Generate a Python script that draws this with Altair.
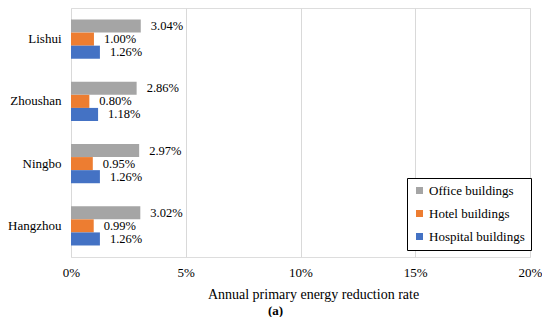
import altair as alt
import pandas as pd

cities = ["Lishui", "Zhoushan", "Ningbo", "Hangzhou"]
types = ["Office buildings", "Hotel buildings", "Hospital buildings"]
office = [3.04, 2.86, 2.97, 3.02]
hotel = [1.00, 0.80, 0.95, 0.99]
hospital = [1.26, 1.18, 1.26, 1.26]
colors = ["#A5A5A5", "#ED7D31", "#4472C4"]

rows = []
for i, c in enumerate(cities):
    for t, vals in zip(types, [office, hotel, hospital]):
        rows.append({"city": c, "type": t, "value": vals[i],
                     "label": f"{vals[i]:.2f}%"})
df = pd.DataFrame(rows)

FONT = "Liberation Serif"

y_enc = alt.Y("city:N", sort=cities, title=None,
              scale=alt.Scale(paddingInner=0.37, paddingOuter=0.185),
              axis=alt.Axis(labelFont=FONT, labelFontSize=13, labelColor="#000",
                            ticks=False, domain=False, labelPadding=10))
yoff = alt.YOffset("type:N", sort=types)
x_enc = alt.X("value:Q", scale=alt.Scale(domain=[0, 20]),
              title="Annual primary energy reduction rate",
              axis=alt.Axis(values=[0, 5, 10, 15, 20], labelExpr="datum.value + '%'",
                            labelFont=FONT, labelFontSize=13, labelColor="#000",
                            labelPadding=9, ticks=False, domain=False,
                            labelFlush=False,
                            gridColor="#d9d9d9", gridWidth=1,
                            titleFont=FONT, titleFontSize=14, titleFontWeight="normal",
                            titleColor="#000", titlePadding=8, titleX=242))

bars = alt.Chart(df).mark_bar().encode(
    y=y_enc, yOffset=yoff, x=x_enc,
    color=alt.Color("type:N", sort=types,
                    scale=alt.Scale(domain=types, range=colors),
                    legend=alt.Legend(title=None, orient="none", legendX=336, legendY=170,
                                      labelFont=FONT, labelFontSize=13, labelColor="#000",
                                      symbolType="square", symbolSize=49,
                                      symbolStrokeWidth=0,
                                      strokeColor="#000", fillColor="#fff",
                                      padding=6, rowPadding=9, labelOffset=3)),
)

labels = alt.Chart(df).mark_text(align="left", baseline="middle", dx=10,
                                 font=FONT, fontSize=12.5, color="#000").encode(
    y=alt.Y("city:N", sort=cities), yOffset=yoff, x="value:Q", text="label:N")

chart = alt.layer(bars, labels).properties(
    width=459, height=249,
    title=alt.TitleParams("(a)", orient="bottom", font=FONT, fontSize=13,
                          fontWeight="bold", color="#000", dx=-25, offset=4),
    autosize=alt.AutoSizeParams(type="none"),
    padding={"left": 63, "top": 0, "right": 12, "bottom": 60},
).configure_view(stroke="#000", strokeWidth=1.5).configure(background="#fff")

chart.save("out.html", embed_options={"renderer": "svg", "actions": False})
